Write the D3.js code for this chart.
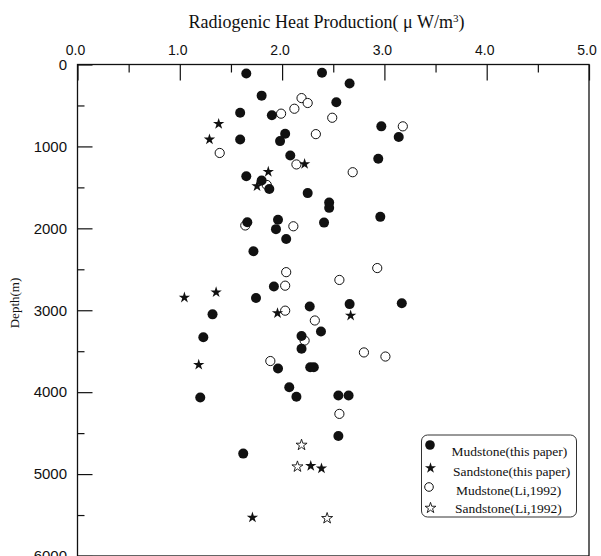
<!DOCTYPE html>
<html>
<head>
<meta charset="utf-8">
<script src="https://cdn.jsdelivr.net/npm/d3@7"></script>
<style>
  html, body { margin: 0; padding: 0; background: #fff; }
  svg { display: block; }
</style>
</head>
<body>
<svg id="chart" width="601" height="556"></svg>
<script>
// ---- data ----
const xTickValues = [0, 1, 2, 3, 4, 5];
const xTickLabels = ["0.0", "1.0", "2.0", "3.0", "4.0", "5.0"];
const xMinorTicks = [0.5, 1.5, 2.5, 3.5, 4.5];
const yTickValues = [0, 1000, 2000, 3000, 4000, 5000, 6000];
const yTickLabels = ["0", "1000", "2000", "3000", "4000", "5000", "6000"];
const yMinorTicks = [500, 1500, 2500, 3500, 4500, 5500];

// Mudstone (this paper) – filled circles
const mudThisHeat  = [1.65, 2.39, 2.66, 1.80, 2.53, 1.59, 1.90, 2.97, 2.03, 3.14, 1.59, 1.98, 2.08, 2.94, 1.65, 1.80, 1.875, 2.25, 2.46, 2.46, 2.96, 1.96, 1.66, 2.41, 1.94, 2.04, 1.72, 1.92, 1.745, 3.17, 2.66, 2.27, 1.32, 2.38, 2.19, 1.23, 2.19, 2.275, 2.31, 1.96, 2.07, 2.55, 2.65, 2.14, 1.20, 2.55, 1.62];
const mudThisDepth = [110, 100, 232, 380, 460, 590, 620, 755, 845, 885, 915, 935, 1110, 1150, 1365, 1415, 1520, 1570, 1685, 1750, 1860, 1895, 1925, 1930, 2010, 2130, 2280, 2710, 2850, 2915, 2925, 2955, 3050, 3260, 3315, 3330, 3470, 3695, 3695, 3710, 3940, 4040, 4040, 4055, 4065, 4535, 4750];

// Sandstone (this paper) – filled stars
const sandThisHeat  = [1.38, 1.29, 2.22, 1.865, 1.755, 1.355, 1.045, 1.955, 2.67, 1.185, 2.28, 2.385, 1.71];
const sandThisDepth = [725, 915, 1215, 1310, 1485, 2780, 2845, 3035, 3065, 3665, 4900, 4930, 5530];

// Mudstone (Li, 1992) – open circles
const mudLiHeat  = [2.19, 2.25, 2.12, 1.99, 2.49, 3.18, 2.33, 1.39, 2.14, 2.69, 1.85, 1.64, 2.11, 2.93, 2.04, 2.56, 2.03, 2.03, 2.32, 2.22, 2.80, 3.01, 1.885, 2.56];
const mudLiDepth = [410, 470, 540, 600, 650, 755, 850, 1080, 1220, 1315, 1470, 1965, 1975, 2485, 2535, 2630, 2700, 3005, 3125, 3370, 3515, 3565, 3620, 4265];

// Sandstone (Li, 1992) – open stars
const sandLiHeat  = [2.19, 2.15, 2.44];
const sandLiDepth = [4645, 4910, 5540];

const legendLabels = ["Mudstone(this paper)", "Sandstone(this paper)", "Mudstone(Li,1992)", "Sandstone(Li,1992)"];

(function () {
// ---- layout ----
const svg = d3.select("#chart");
const pL = 77.5, pR = 589, pT = 64.5, pB = 556;
const x = d3.scaleLinear().domain([0, 5]).range([pL, pR]);
const y = d3.scaleLinear().domain([0, 6000]).range([pT, pB]);
const ink = "#111";
const sans = "'Liberation Sans', Arial, sans-serif";
const serif = "'Liberation Serif', 'Times New Roman', serif";

// frame
svg.append("rect")
  .attr("x", pL).attr("y", pT)
  .attr("width", pR - pL).attr("height", pB - pT)
  .attr("fill", "none").attr("stroke", ink).attr("stroke-width", 1.3);

// top axis: major ticks (inward), minor ticks, labels
const topMajor = svg.append("g").attr("transform", `translate(0,${pT})`)
  .call(d3.axisTop(x).tickValues(xTickValues).tickSize(-16).tickFormat(""));
const topMinor = svg.append("g").attr("transform", `translate(0,${pT})`)
  .call(d3.axisTop(x).tickValues(xMinorTicks).tickSize(-8).tickFormat(""));
const topLabels = svg.append("g").attr("transform", `translate(-2.5,${pT})`)
  .call(d3.axisTop(x).tickValues(xTickValues).tickSize(0).tickPadding(9.5)
    .tickFormat((d, i) => xTickLabels[i]));

// left axis
const leftMajor = svg.append("g").attr("transform", `translate(${pL},0)`)
  .call(d3.axisLeft(y).tickValues(yTickValues).tickSize(-15).tickFormat(""));
const leftMinor = svg.append("g").attr("transform", `translate(${pL},0)`)
  .call(d3.axisLeft(y).tickValues(yMinorTicks).tickSize(-7).tickFormat(""));
const leftLabels = svg.append("g").attr("transform", `translate(${pL},0)`)
  .call(d3.axisLeft(y).tickValues(yTickValues).tickSize(0).tickPadding(10.5)
    .tickFormat((d, i) => yTickLabels[i]));

[topMajor, topMinor, topLabels, leftMajor, leftMinor, leftLabels].forEach(g => {
  g.select(".domain").remove();
  g.selectAll(".tick line").attr("stroke", ink).attr("stroke-width", 1.2);
});
topLabels.selectAll("text").attr("font-family", sans).attr("font-size", 14).attr("fill", ink);
leftLabels.selectAll("text").attr("font-family", sans).attr("font-size", 15).attr("fill", ink);

// title
const title = svg.append("text")
  .attr("x", 326.5).attr("y", 28)
  .attr("text-anchor", "middle")
  .attr("font-family", serif).attr("font-size", 18).attr("fill", ink);
title.append("tspan").text("Radiogenic Heat Production( μ W/m");
title.append("tspan").attr("baseline-shift", "super").attr("font-size", 11).text("3");
title.append("tspan").text(")");

// y axis label
svg.append("text")
  .attr("transform", "translate(19,303) rotate(-90)")
  .attr("text-anchor", "middle")
  .attr("font-family", serif).attr("font-size", 13).attr("fill", ink)
  .text("Depth(m)");

// ---- marks ----
const star = d3.symbol().type(d3.symbolStar);
const plot = svg.append("g");

plot.selectAll("circle.mudLi").data(d3.range(mudLiHeat.length)).join("circle")
  .attr("class", "mudLi")
  .attr("cx", i => x(mudLiHeat[i])).attr("cy", i => y(mudLiDepth[i]))
  .attr("r", 4.6).attr("fill", "#fff").attr("stroke", ink).attr("stroke-width", 1);

plot.selectAll("path.sandLi").data(d3.range(sandLiHeat.length)).join("path")
  .attr("class", "sandLi")
  .attr("transform", i => `translate(${x(sandLiHeat[i])},${y(sandLiDepth[i])})`)
  .attr("d", star.size(38)()).attr("fill", "#fff").attr("stroke", ink).attr("stroke-width", 0.9);

plot.selectAll("circle.mudThis").data(d3.range(mudThisHeat.length)).join("circle")
  .attr("class", "mudThis")
  .attr("cx", i => x(mudThisHeat[i])).attr("cy", i => y(mudThisDepth[i]))
  .attr("r", 5).attr("fill", ink);

plot.selectAll("path.sandThis").data(d3.range(sandThisHeat.length)).join("path")
  .attr("class", "sandThis")
  .attr("transform", i => `translate(${x(sandThisHeat[i])},${y(sandThisDepth[i])})`)
  .attr("d", star.size(40)()).attr("fill", ink);

// ---- legend ----
const lg = svg.append("g");
lg.append("rect")
  .attr("x", 421.5).attr("y", 435).attr("width", 155).attr("height", 82)
  .attr("rx", 6).attr("ry", 6)
  .attr("fill", "#fff").attr("stroke", "#333").attr("stroke-width", 1);

const legSymY = [445, 468, 487, 508];
const legTextX = [451.5, 453, 456, 455];
const legTextY = [451.5, 471.5, 490.5, 508];

lg.append("circle").attr("cx", 430).attr("cy", legSymY[0]).attr("r", 4.8).attr("fill", ink);
lg.append("path").attr("transform", `translate(430.5,${legSymY[1]})`)
  .attr("d", star.size(38)()).attr("fill", ink);
lg.append("circle").attr("cx", 429).attr("cy", legSymY[2]).attr("r", 4.3)
  .attr("fill", "#fff").attr("stroke", ink).attr("stroke-width", 1);
lg.append("path").attr("transform", `translate(430.5,${legSymY[3]})`)
  .attr("d", star.size(36)()).attr("fill", "#fff").attr("stroke", ink).attr("stroke-width", 0.9);

lg.selectAll("text.leg").data(legendLabels).join("text")
  .attr("class", "leg")
  .attr("x", (d, i) => legTextX[i]).attr("y", (d, i) => legTextY[i])
  .attr("dy", "0.35em")
  .attr("font-family", serif).attr("font-size", 13.5).attr("fill", ink)
  .text(d => d);
})();
</script>
</body>
</html>
